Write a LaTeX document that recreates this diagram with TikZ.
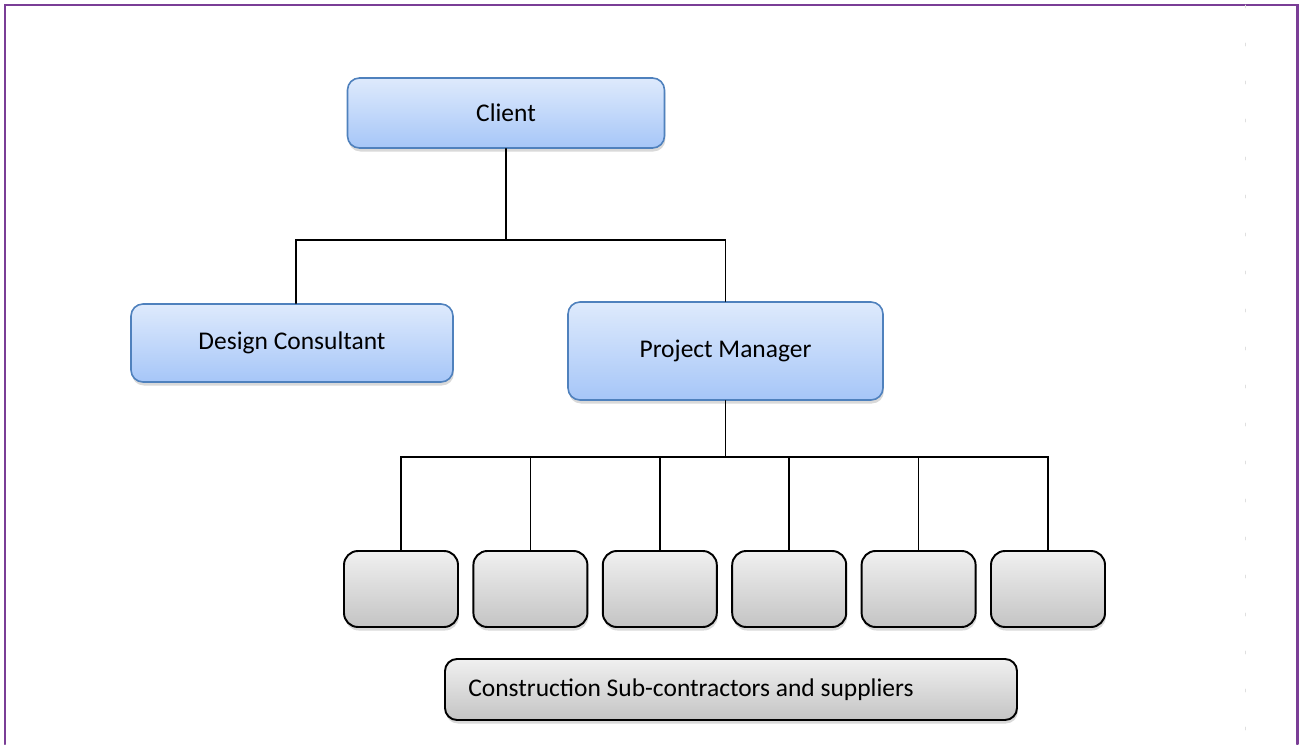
\documentclass[tikz,border=0pt]{standalone}
\usepackage{fontspec}
\setmainfont{Carlito}
\usetikzlibrary{shadows,positioning}
\definecolor{framepurple}{RGB}{122,62,150}
\definecolor{boxblue}{RGB}{79,129,189}
\definecolor{bluetop}{RGB}{222,234,252}
\definecolor{bluebot}{RGB}{166,198,248}
\definecolor{greytop}{RGB}{240,240,240}
\definecolor{greybot}{RGB}{196,196,196}

\begin{document}
\begin{tikzpicture}[
  line cap=round,
  every node/.style={font=\fontsize{14.5}{17}\selectfont},
  bluebox/.style={draw=boxblue,line width=0.9pt,rounded corners=0.24cm,
    top color=bluetop,bottom color=bluebot,inner sep=0pt,
    drop shadow={opacity=0.3,shadow xshift=0.5pt,shadow yshift=-2pt}},
  greybox/.style={draw=black,line width=1.1pt,rounded corners=0.28cm,
    top color=greytop,bottom color=greybot,inner sep=0pt,
    minimum width=2.28cm,minimum height=1.52cm,
    drop shadow={opacity=0.3,shadow xshift=0.5pt,shadow yshift=-2pt}},
  link/.style={line width=0.9pt}
]
  \useasboundingbox (0,0) rectangle (26,14.88);

  % page frame
  \draw[framepurple,line width=1.7pt] (0.1,0) -- (0.1,14.78) -- (25.95,14.78) -- (25.95,0);
  \draw[gray!25,line width=0.3pt,dash pattern=on 0.06cm off 0.7cm] (24.9,14.78) -- (24.9,0);

  % top levels
  \node[bluebox,minimum width=6.34cm,minimum height=1.4cm] (client) at (10.12,12.62) {Client};
  \node[bluebox,minimum width=6.44cm,minimum height=1.56cm] (design) at (5.84,8.02) {Design Consultant};
  \node[bluebox,minimum width=6.3cm,minimum height=1.96cm] (pm) at (14.51,7.86) {Project Manager};

  \coordinate (top) at (10.12,10.08);
  \draw[link] (client.south) -- (top);
  \draw[link] ([xshift=0.08cm]design.north) |- (top) -| (pm.north);

  % sub-contractors
  \foreach \i in {1,...,6}
    \node[greybox] (sub\i) at ({8.02+(\i-1)*2.588},3.10) {};

  \coordinate (bus) at (14.51,5.74);
  \draw[link] (pm.south) -- (bus);
  \draw[link] (sub1.north) |- (bus) -| (sub6.north);
  \foreach \i in {2,...,5}
    \draw[link] (sub\i.north) -- (sub\i.north |- bus);

  \node[greybox,minimum width=11.44cm,minimum height=1.22cm,rounded corners=0.24cm] (supply) at (14.62,1.09)
    {Construction Sub-contractors and suppliers\hspace*{1.6cm}};
\end{tikzpicture}
\end{document}
